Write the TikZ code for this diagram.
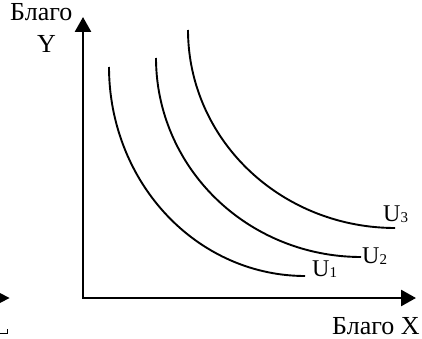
\documentclass[tikz,border=0pt]{standalone}
\usepackage{fontspec}
\setmainfont{Liberation Serif}
\usetikzlibrary{arrows.meta}
\newcommand\lsub[1]{\raisebox{-1pt}{\fontsize{15}{15}\selectfont #1}}
\begin{document}
\begin{tikzpicture}[x=1pt,y=-1pt,
  axis/.style={line width=2.7pt,line join=miter,{Triangle[length=15pt,width=16pt]}-{Triangle[length=15pt,width=16pt]}},
  curve/.style={line width=1.9pt},
  lbl/.style={inner sep=0pt,font=\fontsize{24}{28}\selectfont,anchor=base west},
  big/.style={lbl,font=\fontsize{26}{30}\selectfont,text height=17pt}]
\useasboundingbox (0,0) rectangle (422,339);
\coordinate (O) at (83,298);
\coordinate (ytip) at (83,17);
\coordinate (xtip) at (416,298);
\draw[axis] (ytip) -- (O) -- (xtip);
% indifference curves
\draw[curve] plot[domain=0:90,samples=80] ({305-196*cos(\x)},{67+209*sin(\x)});
\draw[curve] plot[domain=0:90,samples=80] ({361-205*cos(\x)},{58+199*sin(\x)});
\draw[curve] plot[domain=0:90,samples=80] ({395-207*cos(\x)},{30+198*sin(\x)});
% labels
\node[lbl] (u1) at (312,276) {U\lsub{1}};
\node[lbl] (u2) at (362,263) {U\lsub{2}};
\node[lbl] (u3) at (383,221) {U\lsub{3}};
\node[big] (bx) at (332,334) {Благо X};
\node[big] (by) at (10,20.5) {Благо};
\node[big] (yy) at (37,53) {Y};
% cropped fragments at the left edge
\fill (0,293) -- (9.5,298) -- (0,303) -- cycle;
\draw[line width=1pt] (0,333) -- (7,333) -- (7,329);
\end{tikzpicture}
\end{document}
